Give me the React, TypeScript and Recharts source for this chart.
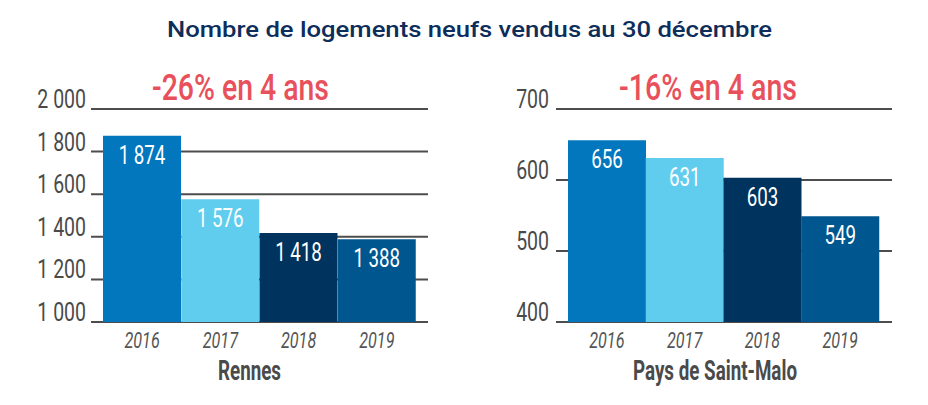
import React from 'react';
import { BarChart, Bar, XAxis, YAxis, CartesianGrid, Cell, LabelList } from 'recharts';

const years = ['2016', '2017', '2018', '2019'];
const rennesValues = [1874, 1576, 1418, 1388];
const maloValues = [656, 631, 603, 549];
const rennesTicks = [1000, 1200, 1400, 1600, 1800, 2000];
const maloTicks = [400, 500, 600, 700];
const barColors = ['#0277BD', '#61CDEE', '#00345F', '#005790'];

// no condensed face installed, so Roboto is squeezed horizontally
const COND = 'Roboto, sans-serif';
const SQUEEZE = 0.75;

const fmt = (v: number) => String(v).replace(/\B(?=(\d{3})+(?!\d))/g, ' ');

const YTick = (props: any) => {
  const { x, y, payload } = props;
  return (
    <text
      transform={`translate(${x},${y - 1}) scale(${SQUEEZE},1)`}
      textAnchor="end"
      fill="#4a4a4a"
      fontFamily={COND}
      fontSize={26}
    >
      {fmt(payload.value)}
    </text>
  );
};

const XTick = (props: any) => {
  const { x, y, payload } = props;
  return (
    <text
      transform={`translate(${x},${y + 18}) scale(0.72,1)`}
      textAnchor="middle"
      fill="#555"
      fontFamily={COND}
      fontStyle="italic"
      fontSize={22.5}
    >
      {payload.value}
    </text>
  );
};

const ValueLabel = (props: any) => {
  const { x, y, width, value } = props;
  return (
    <text
      transform={`translate(${x + width / 2},${y + 28}) scale(${SQUEEZE},1)`}
      textAnchor="middle"
      fill="#fff"
      fontFamily={COND}
      fontSize={25}
    >
      {fmt(value)}
    </text>
  );
};

type PanelProps = {
  values: number[];
  ticks: number[];
  width: number;
  yAxisWidth: number;
  tickMargin: number;
  marginRight: number;
  padRight: number;
};

const Panel = ({ values, ticks, width, yAxisWidth, tickMargin, marginRight, padRight }: PanelProps) => {
  const data = years.map((year, i) => ({ year, value: values[i] }));
  return (
    <BarChart
      width={width}
      height={405}
      data={data}
      barCategoryGap={0}
      margin={{ top: 109, right: marginRight, left: 0, bottom: 53 }}
    >
      <CartesianGrid vertical={false} stroke="#4d4d4d" strokeWidth={2} />
      <XAxis
        dataKey="year"
        axisLine={false}
        tickLine={false}
        height={30}
        padding={{ left: 12, right: padRight }}
        tick={<XTick />}
      />
      <YAxis
        width={yAxisWidth}
        domain={[ticks[0], ticks[ticks.length - 1]]}
        ticks={ticks}
        allowDataOverflow
        axisLine={false}
        tickLine={false}
        tickSize={0}
        tickMargin={tickMargin}
        tick={<YTick />}
      />
      <Bar dataKey="value" isAnimationActive={false}>
        {data.map((d, i) => (
          <Cell key={d.year} fill={barColors[i]} />
        ))}
        <LabelList dataKey="value" content={<ValueLabel />} />
      </Bar>
    </BarChart>
  );
};

const FitText = (p: {
  x: number;
  y: number;
  w: number;
  size: number;
  color: string;
  weight?: number;
  family?: string;
  children: string;
}) => (
  <text
    x={p.x}
    y={p.y}
    textLength={p.w}
    lengthAdjust="spacingAndGlyphs"
    fontFamily={p.family || COND}
    fontSize={p.size}
    fontWeight={p.weight || 400}
    fill={p.color}
  >
    {p.children}
  </text>
);

export default function App() {
  return (
    <div style={{ position: 'absolute', left: 0, top: 0, width: 928, height: 405, background: '#fff', overflow: 'hidden' }}>
      <div style={{ position: 'absolute', left: 0, top: 0 }}>
        <Panel values={rennesValues} ticks={rennesTicks} width={460} yAxisWidth={91} tickMargin={5} marginRight={32} padRight={12} />
      </div>
      <div style={{ position: 'absolute', left: 470, top: 0 }}>
        <Panel values={maloValues} ticks={maloTicks} width={458} yAxisWidth={86} tickMargin={7} marginRight={36} padRight={13} />
      </div>
      <svg width={928} height={405} style={{ position: 'absolute', left: 0, top: 0, pointerEvents: 'none' }}>
        <FitText x={167} y={37} w={605} size={22} weight={500} color="#0d2d5a" family="Roboto, sans-serif">
          Nombre de logements neufs vendus au 30 décembre
        </FitText>
        <FitText x={152} y={100} w={177} size={37} weight={500} color="#E8505B">-26% en 4 ans</FitText>
        <FitText x={619} y={100} w={178} size={37} weight={500} color="#E8505B">-16% en 4 ans</FitText>
        <FitText x={218} y={380} w={63} size={28} weight={700} color="#4a4a4a">Rennes</FitText>
        <FitText x={633} y={380} w={164} size={28} weight={700} color="#4a4a4a">Pays de Saint-Malo</FitText>
      </svg>
    </div>
  );
}
